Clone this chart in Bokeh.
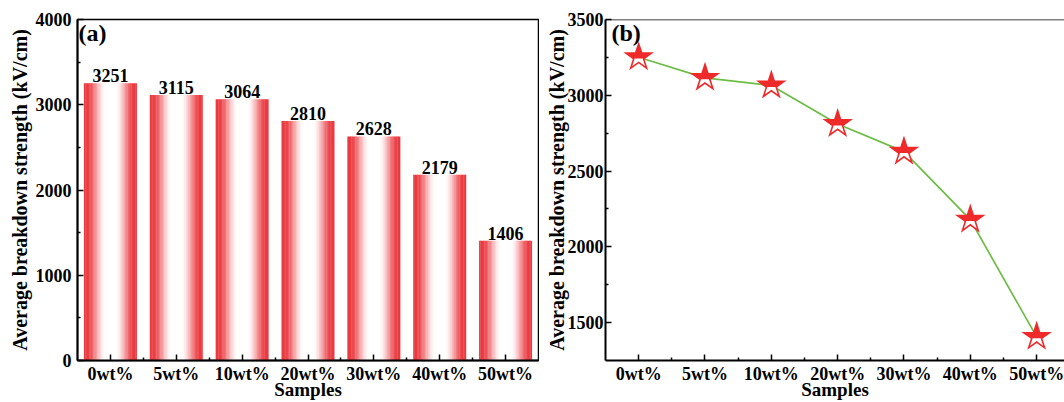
from bokeh.plotting import figure
from bokeh.layouts import row
from bokeh.models import FixedTicker, Label, Span, CustomJS
from bokeh.embed import file_html
from bokeh.resources import INLINE
from bokeh.core.properties import value

# ---------------- data ----------------
categories = ["0wt%", "5wt%", "10wt%", "20wt%", "30wt%", "40wt%", "50wt%"]
strength = [3251, 3115, 3064, 2810, 2628, 2179, 1406]
bar_yticks = [0, 1000, 2000, 3000, 4000]
bar_yminor = [500, 1500, 2500, 3500]
line_yticks = [1500, 2000, 2500, 3000, 3500]
line_yminor = [1750, 2250, 2750, 3250]
ylabel = "Average breakdown strength (kV/cm)"
xlabel = "Samples"

FONT = "Liberation Serif"
STAR_RED = "#ee2a2a"
GREEN = "#6cbd45"

idx = list(range(len(categories)))
xminor = [i + 0.5 for i in idx[:-1]]


def style(p, yticks, yminor, ystand, ylabstand):
    p.toolbar_location = None
    p.xgrid.grid_line_color = None
    p.ygrid.grid_line_color = None
    p.background_fill_color = "white"
    p.border_fill_color = "white"
    p.xaxis.ticker = FixedTicker(ticks=idx, minor_ticks=xminor)
    p.xaxis.major_label_overrides = {i: c for i, c in zip(idx, categories)}
    p.yaxis.ticker = FixedTicker(ticks=yticks, minor_ticks=yminor)
    for ax in (p.xaxis[0], p.yaxis[0]):
        ax.major_tick_in = 6
        ax.major_tick_out = 0
        ax.minor_tick_in = 3
        ax.minor_tick_out = 0
        ax.major_tick_line_width = 1.5
        ax.minor_tick_line_width = 1.5
        ax.major_tick_line_color = "black"
        ax.minor_tick_line_color = "black"
        ax.axis_line_width = 2
        ax.axis_line_color = "black"
        ax.major_label_text_font = FONT
        ax.major_label_text_font_style = "bold"
        ax.major_label_text_font_size = "18px"
        ax.major_label_text_color = "black"
        ax.axis_label_text_font = FONT
        ax.axis_label_text_font_style = "bold"
        ax.axis_label_text_color = "black"
    p.xaxis.major_label_standoff = 3
    p.xaxis.axis_label = xlabel
    p.xaxis.axis_label_text_font_size = "19px"
    p.xaxis.axis_label_standoff = -8
    p.yaxis.major_label_standoff = ystand
    p.yaxis.axis_label = ylabel
    p.yaxis.axis_label_text_font_size = "20px"
    p.yaxis.axis_label_standoff = ylabstand


# ---------------- panel (a): bars ----------------
p1 = figure(width=539, height=402, x_range=(-0.5, 6.5), y_range=(0, 4000),
            output_backend="svg", toolbar_location=None,
            min_border_left=77, min_border_right=1, min_border_top=19, min_border_bottom=41)
style(p1, bar_yticks, bar_yminor, 6, 2)
p1.outline_line_color = "black"
p1.outline_line_width = 1.5
p1.outline_line_alpha = 1.0


def smooth(a):
    a = max(0.0, min(1.0, a))
    return a * a * (3 - 2 * a)


def whiteness(t):
    if t < 0.42:
        return smooth((t - 0.05) / 0.37)
    if t < 0.6:
        return 1.0
    return 1.0 - smooth((t - 0.6) / 0.36)


rgb_red = (234, 58, 64)
N = 40
bw = 0.8
xs, tops, cols = [], [], []
for i, v in zip(idx, strength):
    for k in range(N):
        t = (k + 0.5) / N
        w = whiteness(t)
        c = tuple(int(round(rc * (1 - w) + 255 * w)) for rc in rgb_red)
        xs.append(i - bw / 2 + t * bw)
        tops.append(v)
        cols.append("#%02x%02x%02x" % c)
p1.vbar(x=xs, top=tops, bottom=0, width=bw / N * 1.25, fill_color=cols, line_color=None)

p1.text(x=idx, y=strength, text=[str(v) for v in strength], text_align="center",
        text_baseline="bottom", y_offset=-1, text_font=value(FONT),
        text_font_style="bold", text_font_size="18px", text_color="black")

p1.add_layout(Label(x=-0.5, y=4000, x_offset=1, y_offset=0, text="(a)", text_baseline="top",
                    text_font=FONT, text_font_style="bold", text_font_size="24px", text_color="black"))

# ---------------- panel (b): line ----------------
p2 = figure(width=525, height=402, x_range=(-0.5, 6.42), y_range=(1250, 3500),
            output_backend="svg", toolbar_location=None,
            min_border_left=66, min_border_right=0, min_border_top=19, min_border_bottom=41)
style(p2, line_yticks, line_yminor, 2, -3)
p2.outline_line_color = None
p2.add_layout(Span(location=3500, dimension="width", line_color="black", line_width=1.5))

p2.line(x=idx, y=strength, line_color=GREEN, line_width=1.7)

star_js = """
let ctx = null, r = null;
const cands = [];
try { cands.push(cb_data); } catch (e) {}
try { cands.push(cb_obj); } catch (e) {}
for (let j = 0; j < arguments.length; j++) cands.push(arguments[j]);
const nums = [];
for (const o of cands) {
  if (o == null) continue;
  if (typeof o === 'number') { nums.push(o); continue; }
  if (typeof o.beginPath === 'function') { if (!ctx) ctx = o; continue; }
  if (typeof o === 'object') {
    if (o.ctx && typeof o.ctx.beginPath === 'function' && !ctx) ctx = o.ctx;
    if (typeof o.r === 'number' && r == null) r = o.r;
  }
}
if (r == null && nums.length) r = nums[nums.length - 1];
if (!ctx || r == null) return;
const R = r, rin = r * 0.382;
const pts = [];
for (let k = 0; k < 10; k++) {
  const ang = -Math.PI / 2 + k * Math.PI / 5;
  const rad = (k % 2 === 0) ? R : rin;
  pts.push([rad * Math.cos(ang), rad * Math.sin(ang)]);
}
const yc = 0.1 * R;
const top = [];
for (let k = 0; k < pts.length; k++) {
  const a = pts[k], b = pts[(k + 1) % pts.length];
  const ain = a[1] <= yc, bin = b[1] <= yc;
  if (ain) top.push(a);
  if (ain !== bin) {
    const t = (yc - a[1]) / (b[1] - a[1]);
    top.push([a[0] + t * (b[0] - a[0]), yc]);
  }
}
function path(ps) {
  ctx.beginPath();
  ps.forEach((p, j) => { if (j) ctx.lineTo(p[0], p[1]); else ctx.moveTo(p[0], p[1]); });
  ctx.closePath();
}
path(pts);
ctx.fillStyle = 'white';
ctx.fill();
path(top);
ctx.fillStyle = 'STARCOLOR';
ctx.fill();
path(pts);
ctx.lineWidth = 1.6;
ctx.lineJoin = 'miter';
ctx.strokeStyle = 'STARCOLOR';
ctx.stroke();
""".replace("STARCOLOR", STAR_RED)

try:
    p2.scatter(x=idx, y=strength, size=27, marker="@halfstar",
               defs={"@halfstar": CustomJS(code=star_js)},
               fill_color=None, line_color=None)
except Exception:
    p2.scatter(x=idx, y=strength, size=27, marker="star",
               fill_color="white", line_color=STAR_RED, line_width=1.6)

p2.add_layout(Label(x=-0.5, y=3500, x_offset=6, y_offset=0, text="(b)", text_baseline="top",
                    text_font=FONT, text_font_style="bold", text_font_size="24px", text_color="black"))

layout = row(p1, p2)
open("out.html", "w").write(file_html(layout, INLINE))
